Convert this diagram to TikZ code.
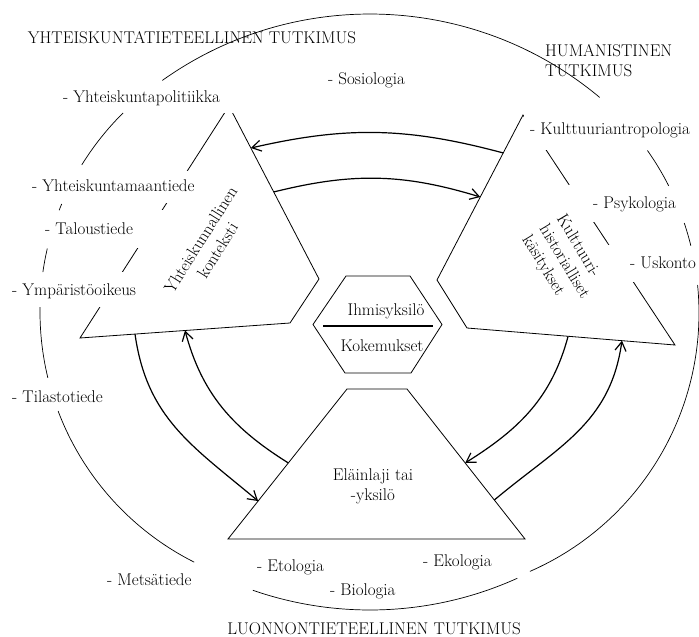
\documentclass[tikz,border=0pt]{standalone}
\usepackage{fontspec}
\usetikzlibrary{calc,arrows.meta}
\newcommand\ringarc[4]{\draw[ring] (#1) ++(#2:#4) arc[start angle=#2, end angle=#3, radius=#4];}
\begin{document}
\begin{tikzpicture}[x=1pt,y=1pt,
  every node/.style={font=\fontsize{17}{20}\selectfont, inner sep=0pt},
  edge/.style={line width=0.8pt, line join=miter},
  ring/.style={line width=0.7pt},
  flow/.style={line width=1.2pt, -{Straight Barb[length=9pt,width=11pt]}},
  lab/.style={anchor=west},
  patch/.style={fill=white, draw=none}]
\useasboundingbox (0,0) rectangle (699,-637);

% trapezoid vertices
\coordinate (A) at (229,-106);
\coordinate (B) at (319,-279);
\coordinate (C) at (290,-323);
\coordinate (D) at (80,-338);
\coordinate (P) at (523,-115);
\coordinate (E) at (437,-280);
\coordinate (F) at (467,-328);
\coordinate (G) at (675,-345);
\coordinate (H) at (347,-389);
\coordinate (I) at (407,-389);
\coordinate (J) at (525,-539);
\coordinate (K) at (228,-539);
% hexagon vertices
\coordinate (h1) at (346,-276);
\coordinate (h2) at (410,-276);
\coordinate (h3) at (442,-324.5);
\coordinate (h4) at (411,-373);
\coordinate (h5) at (345,-373);
\coordinate (h6) at (313,-324.5);
\coordinate (d1) at (323,-326);
\coordinate (d2) at (433,-326);
% circle centres
\coordinate (cT) at (370,-372);
\coordinate (cB) at (370,-252);
\coordinate (cL) at (320,-312);
\coordinate (cR) at (417,-313);

\draw[edge] (A) -- (B) -- (C) -- (D) -- cycle;
\draw[edge] (P) -- (E) -- (F) -- (G) -- cycle;
\draw[edge] (H) -- (I) -- (J) -- (K) -- cycle;
\draw[edge] (h1) -- (h2) -- (h3) -- (h4) -- (h5) -- (h6) -- cycle;
\draw[line width=2pt] (d1) -- (d2);

% white backgrounds of the labels that sit on the trapezoid sides
\fill[patch] (58,-84) rectangle (237,-113);
\fill[patch] (28,-171) rectangle (194,-203);
\fill[patch] (42,-210) rectangle (166,-248);
\fill[patch] (9,-272) rectangle (137,-307);
\fill[patch] (523.5,-110) rectangle (692,-150);
\fill[patch] (566,-185) rectangle (682,-222);
\fill[patch] (606,-245) rectangle (699,-282);

% titles
\node (tYT) at (192,-38) {YHTEISKUNTATIETEELLINEN TUTKIMUS};
\node[anchor=west, align=left] (tHU) at (545,-61) {HUMANISTINEN\\TUTKIMUS};
\node (tLU) at (374,-628.5) {LUONNONTIETEELLINEN TUTKIMUS};

% labels
\node[lab] (yp) at (63,-98) {- Yhteiskuntapolitiikka};
\node[lab] (ym) at (32,-186) {- Yhteiskuntamaantiede};
\node[lab] (ta) at (45,-229) {- Taloustiede};
\node[lab] (yo) at (12,-291) {- Ympäristöoikeus};
\node[lab] (ti) at (12,-397) {- Tilastotiede};
\node[lab] (me) at (107,-580) {- Metsätiede};
\node[lab] (et) at (257,-567.5) {- Etologia};
\node[lab] (bi) at (330,-591) {- Biologia};
\node[lab] (ek) at (423,-562) {- Ekologia};
\node[lab] (so) at (328,-80) {- Sosiologia};
\node[lab] (ku) at (530,-130) {- Kulttuuriantropologia};
\node[lab] (ps) at (593,-204) {- Psykologia};
\node[lab] (us) at (630,-262.5) {- Uskonto};

% shape texts
\node[rotate=58, align=center] (yk) at (209,-245) {Yhteiskunnallinen\\konteksti};
\node[rotate=-59, align=left] (kh) at (564,-262) {Kulttuuri-\\historialliset\\käsitykset};
\node[align=center] (el) at (373,-486.5) {Eläinlaji tai\\-yksilö};
\node (ih) at (386,-311) {Ihmisyksilö};
\node (ko) at (382,-346) {Kokemukset};

% outer ring
\ringarc{cT}{125.47}{50.09}{358}
\ringarc{cB}{-109.1}{-65.7}{358}
\ringarc{cL}{134.7}{148.3}{280}
\ringarc{cL}{157.3}{158.7}{280}
\ringarc{cL}{166.9}{171.8}{280}
\ringarc{cL}{179.0}{193.6}{280}
\ringarc{cL}{200.7}{243.3}{280}
\ringarc{cR}{26.8}{35.2}{282}
\ringarc{cR}{13.8}{18.6}{282}
\ringarc{cR}{-66.4}{5.7}{282}

% arrow end points
\coordinate (l1) at ($(A)!0.243!(B)$);
\coordinate (l2) at ($(A)!0.497!(B)$);
\coordinate (r1) at ($(P)!0.23!(E)$);
\coordinate (r2) at ($(P)!0.497!(E)$);
\coordinate (c1) at ($(C)!0.738!(D)$);
\coordinate (c2) at ($(C)!0.5!(D)$);
\coordinate (k1) at ($(K)!0.253!(H)$);
\coordinate (k2) at ($(K)!0.507!(H)$);
\coordinate (i1) at ($(I)!0.493!(J)$);
\coordinate (i2) at ($(I)!0.74!(J)$);
\coordinate (f1) at ($(F)!0.486!(G)$);
\coordinate (f2) at ($(F)!0.745!(G)$);

\draw[flow] (r1) to[out=165,in=13] (l1);
\draw[flow] (l2) to[out=14,in=163] (r2);
\draw[flow] (c1) to[out=-82,in=140,looseness=1.05] (k1);
\draw[flow] (k2) to[out=148,in=-75] (c2);
\draw[flow] (f1) to[out=-105,in=32] (i1);
\draw[flow] (i2) to[out=40,in=-98,looseness=1.05] (f2);
\end{tikzpicture}
\end{document}
